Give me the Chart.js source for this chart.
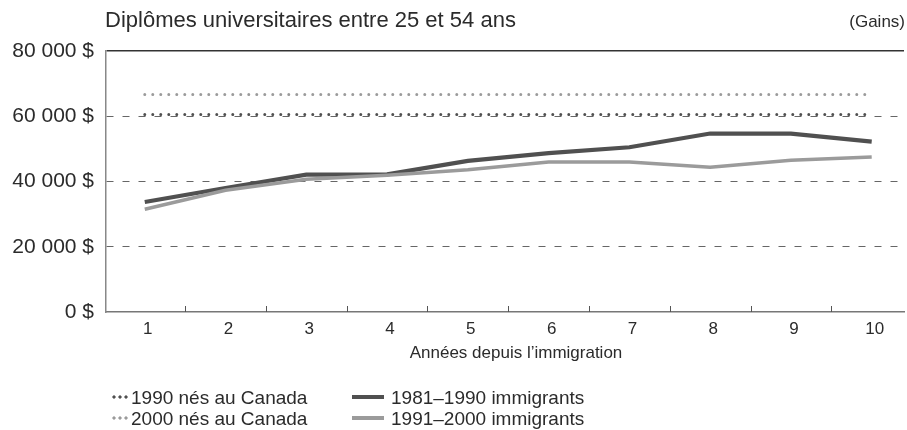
<!DOCTYPE html>
<html><head><meta charset="utf-8">
<script src="https://cdn.jsdelivr.net/npm/chart.js@4"></script>
<style>
html,body{margin:0;padding:0;background:#fff;overflow:hidden;}
#wrap{position:relative;width:907px;height:430px;font-family:"Liberation Sans",Arial,sans-serif;color:#2b2b2b;}
#c{position:absolute;left:0;top:0;}
.t{position:absolute;white-space:nowrap;line-height:1;}
.sym{position:absolute;}
</style></head><body>
<div id="wrap">
<canvas id="c" width="907" height="430"></canvas>
<div class="t" id="title" style="left:105px;top:9px;font-size:22px;"></div>
<div class="t" id="unit" style="right:2px;top:13px;font-size:17px;"></div>
<div class="t" id="xtitle" style="left:0;width:1032px;text-align:center;top:344px;font-size:17px;"></div>
<div id="legend"></div>
</div>
<script>
const titleText = 'Diplômes universitaires entre 25 et 54 ans';
const unitText = '(Gains)';
const xTitleText = 'Années depuis l’immigration';
const years = [1,2,3,4,5,6,7,8,9,10];
const xLabels = ['1','2','3','4','5','6','7','8','9','10'];
const yTicks = [0,20000,40000,60000,80000];
const yTickLabels = ['0 $','20 000 $','40 000 $','60 000 $','80 000 $'];
const seriesLabels = ['1990 nés au Canada','2000 nés au Canada','1981–1990 immigrants','1991–2000 immigrants'];
const born1990 = [60500,60500,60500,60500,60500,60500,60500,60500,60500,60500];
const born2000 = [66700,66700,66700,66700,66700,66700,66700,66700,66700,66700];
const imm8190 = [33700,38000,42100,42200,46300,48700,50500,54700,54700,52200];
const imm9100 = [31500,37300,40700,41900,43600,46000,46000,44400,46500,47500];

document.getElementById('title').textContent = titleText;
document.getElementById('unit').textContent = unitText;
document.getElementById('xtitle').textContent = xTitleText;

const pts = arr => arr.map((v,i)=>({x:years[i], y:v}));
const DARK='#505050', LIGHT='#9b9b9b';

// legend (HTML)
const legendDefs = [
  {label:seriesLabels[0], kind:'dot', color:DARK, x:111, y:397},
  {label:seriesLabels[1], kind:'dot', color:LIGHT, x:111, y:418},
  {label:seriesLabels[2], kind:'line', color:DARK, x:352, y:397},
  {label:seriesLabels[3], kind:'line', color:LIGHT, x:352, y:418},
];
const lg = document.getElementById('legend');
legendDefs.forEach(d=>{
  const s = document.createElement('div');
  s.className='sym';
  if(d.kind==='dot'){
    s.style.cssText=`left:${d.x}px;top:${d.y-3}px;width:18px;height:6px;background:radial-gradient(circle, ${d.color} 1.4px, transparent 1.8px) 0 0/6px 6px repeat-x;`;
  } else {
    s.style.cssText=`left:${d.x}px;top:${d.y-2}px;width:32px;height:4px;background:${d.color};`;
  }
  lg.appendChild(s);
  const t = document.createElement('div');
  t.className='t';
  t.textContent=d.label;
  t.style.cssText=`left:${d.kind==='dot'?d.x+20:d.x+39}px;top:${d.y-9.5}px;font-size:19px;`;
  lg.appendChild(t);
});

const innerTicks = {
  id:'innerTicks',
  afterDatasetsDraw(chart){
    const xs = chart.scales.x, ctx = chart.ctx, b = chart.chartArea.bottom;
    ctx.save();
    ctx.strokeStyle='#555'; ctx.lineWidth=1;
    for(let i=0;i<years.length-1;i++){
      const px = Math.round(xs.getPixelForValue((years[i]+years[i+1])/2))+0.5;
      ctx.beginPath(); ctx.moveTo(px,b); ctx.lineTo(px,b-6); ctx.stroke();
    }
    ctx.restore();
  }
};

new Chart(document.getElementById('c'), {
  type:'line',
  data:{datasets:[
    {label:seriesLabels[1], data:pts(born2000), borderColor:LIGHT, borderWidth:3, borderDash:[0,8], borderCapStyle:'round', pointRadius:0, tension:0},
    {label:seriesLabels[0], data:pts(born1990), borderColor:DARK, borderWidth:3, borderDash:[0,8], borderCapStyle:'round', pointRadius:0, tension:0},
    {label:seriesLabels[3], data:pts(imm9100), borderColor:LIGHT, borderWidth:3.5, pointRadius:0, tension:0},
    {label:seriesLabels[2], data:pts(imm8190), borderColor:DARK, borderWidth:4.2, pointRadius:0, tension:0},
  ]},
  options:{
    responsive:false, animation:false, devicePixelRatio:1,
    layout:{padding:{top:51,right:3,left:0,bottom:0}},
    plugins:{legend:{display:false}, tooltip:{enabled:false}, title:{display:false}},
    scales:{
      x:{type:'linear', min:0.52, max:10.4,
        afterBuildTicks:s=>{s.ticks = years.map(v=>({value:v}));},
        afterFit:s=>{s.height=118;},
        grid:{display:false, drawTicks:false},
        border:{display:true, color:'#777', width:1.5},
        ticks:{callback:(v,i)=>xLabels[i], font:{family:'Liberation Sans', size:17}, color:'#2b2b2b', padding:7, labelOffset:3, maxRotation:0, autoSkip:false}
      },
      y:{min:0, max:80000,
        afterBuildTicks:s=>{s.ticks = yTicks.map(v=>({value:v}));},
        afterFit:s=>{s.width=106;},
        grid:{drawTicks:false,
          color:c=>c.tick&&c.tick.value===0?'rgba(0,0,0,0)':(c.tick&&c.tick.value===80000?'#333':'#666'),
          lineWidth:c=>c.tick&&c.tick.value===80000?1.5:1},
        border:{display:true, color:'#888', width:1.5, dash:c=>(c.tick&&c.tick.value===80000)?[]:[7,9]},
        ticks:{callback:(v,i)=>yTickLabels[i], font:{family:'Liberation Sans', size:21}, color:'#2b2b2b', padding:12}
      }
    }
  },
  plugins:[innerTicks]
});
</script>
</body></html>
